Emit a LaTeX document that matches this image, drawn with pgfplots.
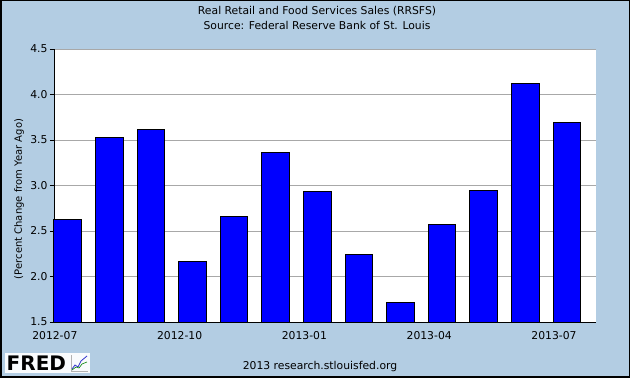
\documentclass[border=0pt]{standalone}
\usepackage{pgfplots}
\pgfplotsset{compat=1.18}
\usepackage{fontspec}
\setmainfont{DejaVu Sans}
\definecolor{bgblue}{HTML}{B3CDE3}
\definecolor{gridgray}{HTML}{A8A8A8}
\begin{document}
\begin{tikzpicture}[x=1pt,y=1pt]
\fill[bgblue] (0,0) rectangle (630,378);
\draw[black,line width=1.5pt] (0.75,0.75) rectangle (629.25,377.25);
\begin{axis}[
  at={(54pt,56pt)}, anchor=south west,
  scale only axis, width=542pt, height=273pt,
  xmin=-0.33, xmax=12.70, ymin=1.5, ymax=4.5,
  axis x line*=bottom, axis y line*=left,
  axis line style={black, line width=0.8pt, -},
  axis background/.style={fill=white},
  xtick={-0.31,2.69,5.69,8.69,11.69},
  xticklabels={2012-07,2012-10,2013-01,2013-04,2013-07},
  xtick style={draw=none},
  xticklabel style={font=\fontsize{10.8}{12}\selectfont, yshift=-2pt},
  ytick={1.5,2.0,2.5,3.0,3.5,4.0,4.5},
  yticklabel style={/pgf/number format/fixed,/pgf/number format/fixed zerofill,/pgf/number format/precision=1, font=\fontsize{10.8}{12}\selectfont, xshift=1pt},
  /pgf/number format/assume math mode=true,
  tick align=outside, major tick length=4pt,
  ytick style={black, line width=0.8pt},
  ymajorgrids, grid style={gridgray, line width=0.8pt},
  clip=false,
]
\addplot[ybar, bar width=0.66, fill=blue, draw=black, line width=1pt, bar shift=0pt] coordinates {
 (0,2.63) (1,3.53) (2,3.62) (3,2.16) (4,2.66) (5,3.36) (6,2.93)
 (7,2.24) (8,1.71) (9,2.57) (10,2.95) (11,4.12) (12,3.69)
};
\end{axis}
\begin{scope}[every node/.style={font=\fontsize{10.8}{12}\selectfont, inner sep=0pt}]
\node[rotate=90, font=\fontsize{10}{11}\selectfont] at (19,179) {(Percent Change from Year Ago)};
\node at (317,366.5) {Real Retail and Food Services Sales (RRSFS)};
\node at (317,353) {Source: Federal Reserve Bank of St. Louis};
\node at (320,11) {2013 research.stlouisfed.org};
\end{scope}
\fill[white!92!bgblue] (5,5) rectangle (90,25);
\node[anchor=west, inner sep=0pt, font=\bfseries\fontsize{20}{20}\selectfont] at (6.5,15) {FRED};
\draw[gray!60, line width=0.4pt] (71,7) -- (71,23) (71,7) -- (88,7);
\draw[blue!60!gray, line width=0.8pt] (72,9) -- (75,13) -- (78,11) -- (81,17) -- (87,22);
\draw[green!50!black, line width=0.6pt] (72,8) -- (76,11) -- (79,10) -- (82,14) -- (87,16);
\end{tikzpicture}
\end{document}
